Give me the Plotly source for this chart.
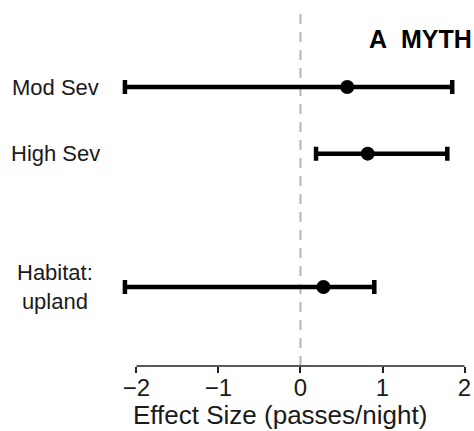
import plotly.graph_objects as go

labels = ["Mod Sev", "High Sev", "Habitat:<br>upland"]
positions = [1, 2, 4]
estimate = [0.57, 0.82, 0.28]
lower = [-2.14, 0.19, -2.14]
upper = [1.85, 1.79, 0.90]
tick_vals = [-2, -1, 0, 1, 2]

err_plus = [u - e for u, e in zip(upper, estimate)]
err_minus = [e - l for e, l in zip(estimate, lower)]

FONT = "Liberation Sans, Arial, sans-serif"
TXT = "#1a1a1a"

fig = go.Figure()
fig.add_trace(go.Scatter(
    x=estimate, y=positions, mode="markers",
    marker=dict(color="black", size=14),
    error_x=dict(type="data", array=err_plus, arrayminus=err_minus,
                 color="black", thickness=4.5, width=7),
    showlegend=False, cliponaxis=False, hoverinfo="skip",
))

# zero reference line
fig.add_shape(type="line", xref="x", yref="paper", x0=0, x1=0, y0=0, y1=1,
              line=dict(color="#b5b5b5", width=2, dash="10px,8px"), layer="below")
# x axis line from -2 to 2
fig.add_shape(type="line", xref="x", yref="paper", x0=min(tick_vals), x1=max(tick_vals),
              y0=0, y1=0, line=dict(color="#222", width=1.5))

for lab, p in zip(labels, positions):
    fig.add_annotation(text=lab, x=-0.185, xref="paper", y=p, yref="y",
                       xanchor="center", yanchor="middle", showarrow=False,
                       font=dict(family=FONT, size=22, color=TXT))

fig.add_annotation(text="Effect Size (passes/night)", x=-0.245, xref="x",
                   y=415, yref="paper", showarrow=False, xanchor="center", yanchor="middle",
                   font=dict(family=FONT, size=26, color=TXT))
fig.add_annotation(text="<b>A\u00a0\u00a0MYTH</b>", x=368, xref="paper",
                   y=39, yref="paper", showarrow=False, xanchor="left", yanchor="middle",
                   font=dict(family=FONT, size=25, color="black"))

W, H = 474, 431
ml, mr, mt, mb = 120, 3, 13, 65
pw, ph = W - ml - mr, H - mt - mb
# convert pixel-based annotation coords to paper
for a in fig.layout.annotations:
    if a.yref == "paper" and a.y > 1.5:
        a.y = (H - mb - a.y) / ph
    if a.xref == "paper" and a.x > 1.5:
        a.x = (a.x - ml) / pw

fig.update_layout(
    width=W, height=H, margin=dict(l=ml, r=mr, t=mt, b=mb),
    plot_bgcolor="white", paper_bgcolor="white",
    xaxis=dict(range=[-2.2, 2.0545], tickvals=tick_vals, ticks="outside", ticklen=6,
               tickwidth=1.5, tickcolor="#222", showgrid=False, zeroline=False,
               showline=False, ticklabelstandoff=-6,
               tickfont=dict(family=FONT, size=24, color=TXT)),
    yaxis=dict(range=[5.185, -0.11], showticklabels=False, showgrid=False,
               zeroline=False, showline=False, ticks=""),
)

fig.write_html("out.html", config={"displayModeBar": False},
               post_script="document.body.style.margin='0';document.body.style.overflow='hidden';")
